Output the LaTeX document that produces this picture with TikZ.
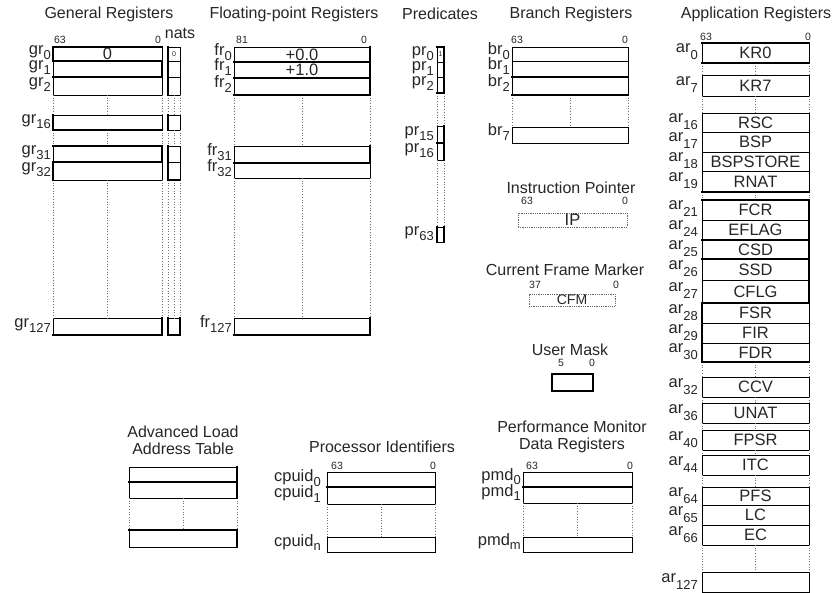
\documentclass[tikz,border=0pt]{standalone}
\usepackage{fontspec}
\setmainfont{Liberation Sans}
\newcommand{\titlef}{\fontsize{16}{17}\selectfont}
\newcommand{\boxf}{\fontsize{16.5}{16}\selectfont}
\newcommand{\labf}{\fontsize{16.5}{16}\selectfont}
\newcommand{\subf}{\fontsize{13}{13}\selectfont}
\newcommand{\bitf}{\fontsize{10.5}{11}\selectfont}
\newcommand{\tinyf}{\fontsize{7}{7}\selectfont}
\tikzset{
  reg/.style={draw=black, line width=0.8pt, inner sep=0pt, outer sep=0pt, anchor=north west, font=\boxf, text=black!85},
  thk/.style={line width=2.2pt, line cap=rect},
  gap/.style={draw=black!55, line width=0.7pt, dotted},
  dotbox/.style={draw=black!60, line width=0.8pt, densely dotted, inner sep=0pt, outer sep=0pt, anchor=north west, font=\labf, text=black!85},
  ttl/.style={font=\titlef, text=black!85, align=center, inner sep=0pt},
  bit/.style={font=\bitf, text=black!85, inner sep=0pt},
  lab/.style={font=\labf, text=black!85, inner sep=0pt, anchor=base east},
}
% name, x, y, width, height, text
\newcommand{\rg}[6]{\node[reg, minimum width=#4pt, minimum height=#5pt] (#1) at (#2,#3) {#6};}
% name, prefix, sub, lowering, xshift, yshift
\newcommand{\lb}[6]{\node[lab] (l#1) at ([xshift=#5pt,yshift=#6pt]#1.west) {#2\raisebox{-#4pt}{\subf #3}};}
\newcommand{\gpall}[2]{\draw[gap] (#1.south west) -- (#2.north west); \draw[gap] (#1.south east) -- (#2.north east); \draw[gap] (#1.south) -- (#2.north);}
\newcommand{\gpedge}[2]{\draw[gap] (#1.south west) -- (#2.north west); \draw[gap] (#1.south east) -- (#2.north east);}
\begin{document}
\begin{tikzpicture}[x=1pt,y=-1pt]
\useasboundingbox (0,0) rectangle (837,593);

% ---------- titles ----------
\node[ttl] (tgr) at (109,14) {General Registers};
\node[ttl] (tfr) at (294,14) {Floating-point Registers};
\node[ttl] (tpr) at (440,14) {Predicates};
\node[ttl] (tbr) at (571,14) {Branch Registers};
\node[ttl] (tar) at (756,14) {Application Registers};
\node[ttl] (tip) at (571,188) {Instruction Pointer};
\node[ttl] (tcfm) at (565,270) {Current Frame Marker};
\node[ttl] (tum) at (570,350) {User Mask};
\node[ttl] (tpmd) at (572,437) {Performance Monitor\\Data Registers};
\node[ttl] (tcpu) at (382,447) {Processor Identifiers};
\node[ttl] (talat) at (183,440) {Advanced Load\\Address Table};
\node[ttl] (tnats) at (180,33) {nats};

% ---------- general registers ----------
\rg{gr0}{53}{47}{109}{14}{0}
\rg{gr1}{53}{61}{109}{16}{}
\rg{gr2}{53}{77}{109}{18}{}
\rg{gr16}{53}{115}{109}{15}{}
\rg{gr31}{53}{146}{109}{16}{}
\rg{gr32}{53}{162}{109}{18}{}
\rg{gr127}{53}{318}{109}{17}{}
\gpall{gr2}{gr16}\gpall{gr16}{gr31}\gpall{gr32}{gr127}
\draw[thk] (gr0.north west) -- (gr0.north east);
\draw[thk] (gr0.north west) -- (gr0.south west);
\draw[thk] (gr0.south west) -- (gr0.south east);
\draw[thk] (gr1.north east) -- (gr1.south east);
\draw[thk] (gr1.south west) -- (gr1.south east);
\draw[thk] (gr16.north west) -- (gr16.south west);
\draw[thk] (gr16.south west) -- (gr16.south east);
\draw[thk] (gr31.north west) -- (gr31.north east);
\draw[thk] (gr31.north east) -- (gr31.south east);
\draw[thk] (gr32.north west) -- (gr32.north east);
\draw[thk] (gr32.north west) -- (gr32.south west);
\draw[thk] (gr127.north east) -- (gr127.south east);
\draw[thk] (gr127.south west) -- (gr127.south east);
\node[bit] (bgr63) at (60,40) {63};
\node[bit] (bgr0) at (158,40) {0};
\newcommand{\lgr}[2]{\lb{#1}{gr}{#2}{5}{-2}{-1}}
\lgr{gr0}{0}\lgr{gr1}{1}\lgr{gr2}{2}\lgr{gr16}{16}\lgr{gr31}{31}\lgr{gr32}{32}\lgr{gr127}{127}

% nats
\rg{n0}{168}{47}{12}{14}{\tinyf 0}
\rg{n1}{168}{61}{12}{16}{}
\rg{n2}{168}{77}{12}{18}{}
\rg{n16}{168}{115}{12}{15}{}
\rg{n31}{168}{146}{12}{16}{}
\rg{n32}{168}{162}{12}{18}{}
\rg{n127}{168}{318}{12}{17}{}
\gpall{n2}{n16}\gpall{n16}{n31}\gpall{n32}{n127}
\draw[thk] (n0.north west) -- (n2.south west);
\draw[thk] (n16.north west) -- (n16.south west);
\draw[thk] (n31.north west) -- (n32.south west);
\draw[thk] (n32.south west) -- (n32.south east);
\draw[thk] (n127.north west) -- (n127.south west);
\draw[thk] (n127.north east) -- (n127.south east);
\draw[thk] (n127.south west) -- (n127.south east);

% ---------- floating-point registers ----------
\rg{fr0}{234}{47}{136}{15}{+0.0}
\rg{fr1}{234}{62}{136}{16}{+1.0}
\rg{fr2}{234}{78}{136}{17}{}
\rg{fr31}{234}{146}{136}{17}{}
\rg{fr32}{234}{163}{136}{15}{}
\rg{fr127}{234}{318}{136}{17}{}
\gpall{fr2}{fr31}\gpall{fr32}{fr127}
\draw[thk] (fr0.south west) -- (fr0.south east);
\draw[thk] (fr1.south west) -- (fr1.south east);
\draw[thk] (fr2.south west) -- (fr2.south east);
\draw[thk] (fr0.north east) -- (fr2.south east);
\draw[thk] (fr31.north east) -- (fr31.south east);
\draw[thk] (fr31.south west) -- (fr31.south east);
\draw[thk] (fr127.north east) -- (fr127.south east);
\draw[thk] (fr127.south west) -- (fr127.south east);
\node[bit] (bfr81) at (242,40) {81};
\node[bit] (bfr0) at (364,40) {0};
\newcommand{\lfr}[2]{\lb{#1}{fr}{#2}{5}{-2}{-1}}
\lfr{fr0}{0}\lfr{fr1}{1}\lfr{fr2}{2}\lfr{fr31}{31}\lfr{fr32}{32}\lfr{fr127}{127}

% ---------- predicates ----------
\rg{pr0}{437}{47}{7}{15}{\tinyf 1}
\rg{pr1}{437}{62}{7}{15}{}
\rg{pr2}{437}{77}{7}{16}{}
\rg{pr15}{437}{126}{7}{17}{}
\rg{pr16}{437}{143}{7}{17}{}
\rg{pr63}{437}{227}{7}{15}{}
\gpedge{pr2}{pr15}\gpedge{pr16}{pr63}
\draw[thk] (pr0.north west) -- (pr0.north east);
\draw[thk] (pr0.north east) -- (pr2.south east);
\draw[thk] (pr2.south west) -- (pr2.south east);
\draw[thk] (pr15.north east) -- (pr16.south east);
\draw[thk] (pr16.north west) -- (pr16.north east);
\draw[thk] (pr63.north east) -- (pr63.south east);
\draw[thk] (pr63.north west) -- (pr63.south west);
\newcommand{\lpr}[2]{\lb{#1}{pr}{#2}{5}{-3}{-1}}
\lpr{pr0}{0}\lpr{pr1}{1}\lpr{pr2}{2}\lpr{pr15}{15}\lpr{pr16}{16}\lpr{pr63}{63}

% ---------- branch registers ----------
\rg{br0}{512}{47}{116}{14}{}
\rg{br1}{512}{61}{116}{16}{}
\rg{br2}{512}{77}{116}{18}{}
\rg{br7}{512}{127}{116}{16}{}
\gpall{br2}{br7}
\draw[thk] (br1.south west) -- (br1.south east);
\draw[thk] (br2.south west) -- (br2.south east);
\node[bit] (bbr63) at (517,40) {63};
\node[bit] (bbr0) at (625,40) {0};
\newcommand{\lbr}[2]{\lb{#1}{br}{#2}{5}{-2}{-1}}
\lbr{br0}{0}\lbr{br1}{1}\lbr{br2}{2}\lbr{br7}{7}

% ---------- instruction pointer, CFM, user mask ----------
\node[dotbox, minimum width=109pt, minimum height=14pt] (ip) at (518,213) {IP};
\node[bit] (bip63) at (527,201) {63};
\node[bit] (bip0) at (625,201) {0};
\node[dotbox, minimum width=86pt, minimum height=12pt, font=\fontsize{14}{14}\selectfont] (cfm) at (529,294) {CFM};
\node[bit] (bcfm37) at (535,285) {37};
\node[bit] (bcfm0) at (616,285) {0};
\node[reg, line width=1.8pt, minimum width=41pt, minimum height=17pt] (um) at (552,374) {};
\node[bit] (bum5) at (561,363) {5};
\node[bit] (bum0) at (592,363) {0};

% ---------- application registers ----------
\rg{ar0}{702}{43}{107}{20}{KR0}
\rg{ar7}{702}{75}{107}{21}{KR7}
\rg{ar16}{702}{113}{107}{19}{RSC}
\rg{ar17}{702}{132}{107}{20}{BSP}
\rg{ar18}{702}{152}{107}{19}{BSPSTORE}
\rg{ar19}{702}{171}{107}{21}{RNAT}
\rg{ar21}{702}{200}{107}{20}{FCR}
\rg{ar24}{702}{220}{107}{20}{EFLAG}
\rg{ar25}{702}{240}{107}{19}{CSD}
\rg{ar26}{702}{259}{107}{21}{SSD}
\rg{ar27}{702}{280}{107}{23}{CFLG}
\rg{ar28}{702}{303}{107}{20}{FSR}
\rg{ar29}{702}{323}{107}{20}{FIR}
\rg{ar30}{702}{343}{107}{19}{FDR}
\rg{ar32}{702}{377}{107}{20}{CCV}
\rg{ar36}{702}{403}{107}{20}{UNAT}
\rg{ar40}{702}{430}{107}{20}{FPSR}
\rg{ar44}{702}{455}{107}{20}{ITC}
\rg{ar64}{702}{487}{107}{18}{PFS}
\rg{ar65}{702}{505}{107}{20}{LC}
\rg{ar66}{702}{525}{107}{20}{EC}
\rg{ar127}{702}{572}{107}{20}{}
\gpall{ar0}{ar7}\gpall{ar7}{ar16}\gpall{ar19}{ar21}\gpall{ar30}{ar32}
\gpall{ar32}{ar36}\gpall{ar36}{ar40}\gpall{ar40}{ar44}\gpall{ar44}{ar64}\gpall{ar66}{ar127}
\draw[thk] (ar0.north west) -- (ar0.north east);
\draw[thk] (ar0.south west) -- (ar0.south east);
\draw[thk] (ar19.south west) -- (ar19.south east);
\draw[thk] (ar21.north west) -- (ar21.north east);
\draw[thk] (ar21.north east) -- (ar27.south east);
\draw[thk] (ar24.south west) -- (ar24.south east);
\draw[thk] (ar25.south west) -- (ar25.south east);
\draw[thk] (ar27.south west) -- (ar27.south east);
\draw[thk] (ar28.north west) -- (ar30.south west);
\draw[thk] (ar30.south west) -- (ar30.south east);
\node[bit] (bar63) at (706,37) {63};
\node[bit] (bar0) at (808,37) {0};
\newcommand{\lar}[2]{\lb{#1}{ar}{#2}{7}{-4}{0}}
\lar{ar0}{0}\lar{ar7}{7}\lar{ar16}{16}\lar{ar17}{17}\lar{ar18}{18}\lar{ar19}{19}
\lar{ar21}{21}\lar{ar24}{24}\lar{ar25}{25}\lar{ar26}{26}\lar{ar27}{27}\lar{ar28}{28}
\lar{ar29}{29}\lar{ar30}{30}\lar{ar32}{32}\lar{ar36}{36}\lar{ar40}{40}\lar{ar44}{44}
\lar{ar64}{64}\lar{ar65}{65}\lar{ar66}{66}\lar{ar127}{127}

% ---------- ALAT ----------
\rg{a0}{129}{467}{108}{15}{}
\rg{a1}{129}{482}{108}{16}{}
\rg{a2}{129}{530}{108}{17}{}
\gpall{a1}{a2}
\draw[thk] (a0.north east) -- (a1.south east);
\draw[thk] (a0.south west) -- (a0.south east);
\draw[thk] (a2.north west) -- (a2.north east);
\draw[thk] (a2.north east) -- (a2.south east);

% ---------- processor identifiers ----------
\rg{c0}{327}{472}{108}{15}{}
\rg{c1}{327}{487}{108}{17}{}
\rg{cn}{327}{537}{108}{15}{}
\gpall{c1}{cn}
\draw[thk] (c0.south west) -- (c0.south east);
\node[bit] (bc63) at (337,466) {63};
\node[bit] (bc0) at (433,466) {0};
\lb{c0}{cpuid}{0}{5}{-6}{-2}
\lb{c1}{cpuid}{1}{5}{-6}{-2}
\lb{cn}{cpuid}{n}{4}{-6}{-2}

% ---------- performance monitor data registers ----------
\rg{p0}{523}{472}{109}{15}{}
\rg{p1}{523}{487}{109}{16}{}
\rg{pm}{523}{537}{109}{15}{}
\gpall{p1}{pm}
\draw[thk] (p0.south west) -- (p0.south east);
\node[bit] (bp63) at (532,466) {63};
\node[bit] (bp0) at (630,466) {0};
\lb{p0}{pmd}{0}{4}{-2}{-1}
\lb{p1}{pmd}{1}{4}{-2}{-1}
\lb{pm}{pmd}{m}{4}{-2}{-1}
\end{tikzpicture}
\end{document}
